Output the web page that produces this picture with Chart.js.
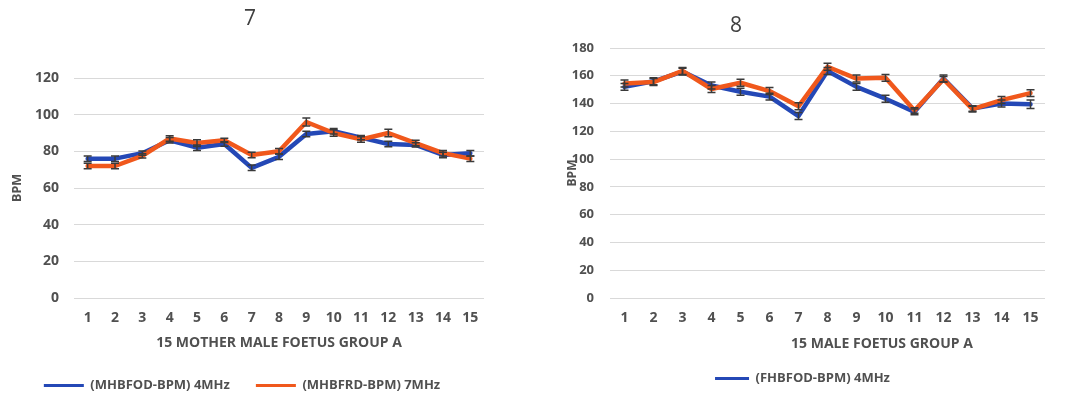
<!DOCTYPE html>
<html>
<head>
<meta charset="utf-8">
<script src="https://cdn.jsdelivr.net/npm/chart.js@4.4.1/dist/chart.umd.min.js"></script>
<style>
  body { margin: 0; background: #fff; width: 1091px; height: 409px; overflow: hidden; position: relative; }
  canvas { position: absolute; top: 0; }
  #chart7 { left: 0; }
  #chart8 { left: 540px; }
</style>
</head>
<body>
<canvas id="chart7" width="520" height="409"></canvas>
<canvas id="chart8" width="551" height="409"></canvas>
<script>
// Datos
const patients = ['1','2','3','4','5','6','7','8','9','10','11','12','13','14','15'];

// Gráfico 7: madres (MHB)
const mhbfod4MHz = [76, 76, 79, 86, 82, 84, 71, 77, 89.5, 91, 87.5, 84, 83.5, 78, 79];
const mhbfrd7MHz = [72, 72, 77.5, 87, 84.5, 86, 78, 80, 96, 90, 86.5, 90, 84.5, 79, 76];
const mhbfodErr = [1.5, 1.5, 1.2, 1.5, 1.5, 1.2, 1.5, 1.5, 1.5, 1.5, 1.2, 1.5, 1.2, 1.5, 1.5];
const mhbfrdErr = [1.5, 1.5, 1.2, 1.5, 1.8, 1.2, 1.5, 1.5, 2.2, 1.8, 1.5, 2, 1.5, 1.5, 1.5];

// Gráfico 8: fetos (FHB)
const fhbfod4MHz = [152, 156, 163, 153, 148.5, 145, 131, 163.5, 152, 143.5, 134, 158, 136.5, 140, 139.5];
const fhbfrd7MHz = [154.5, 155.5, 163.5, 150.5, 155, 149, 138, 166.5, 158, 158.5, 135, 157.5, 136, 142.5, 147.5];
const fhbfodErr = [2.5, 2.5, 2.5, 2.5, 2.5, 2.5, 2.5, 2.5, 2.5, 2.5, 2, 2.5, 2, 2.5, 3];
const fhbfrdErr = [2.5, 2.5, 2.5, 2.5, 2.5, 2.5, 2.5, 2.5, 2.5, 2.5, 2, 2, 2, 2.5, 2.5];

const blue = '#2448B6';
const orange = '#F0581C';
const grey = '#505050';
const family = "'Open Sans', 'DejaVu Sans', sans-serif";

// Barras de error dibujadas con la escala del gráfico
const errorBars = {
  id: 'errorBars',
  afterDatasetsDraw(chart) {
    const ctx = chart.ctx;
    const y = chart.scales.y;
    chart.data.datasets.forEach((ds, di) => {
      if (!ds.errors) return;
      const meta = chart.getDatasetMeta(di);
      meta.data.forEach((pt, i) => {
        const v = ds.data[i], e = ds.errors[i];
        const top = y.getPixelForValue(v + e);
        const bot = y.getPixelForValue(v - e);
        ctx.save();
        ctx.strokeStyle = '#3a3a3a';
        ctx.lineWidth = 1.5;
        ctx.beginPath();
        ctx.moveTo(pt.x, top); ctx.lineTo(pt.x, bot);
        ctx.moveTo(pt.x - 4, top); ctx.lineTo(pt.x + 4, top);
        ctx.moveTo(pt.x - 4, bot); ctx.lineTo(pt.x + 4, bot);
        ctx.stroke();
        ctx.restore();
      });
    });
  }
};

// Títulos y rótulo del eje X
const extraText = {
  id: 'extraText',
  afterDraw(chart, args, opts) {
    const ctx = chart.ctx;
    (opts.items || []).forEach(t => {
      ctx.save();
      ctx.font = t.font;
      ctx.fillStyle = t.color;
      ctx.textAlign = 'center';
      ctx.textBaseline = 'middle';
      ctx.fillText(t.text, t.x, t.y);
      ctx.restore();
    });
  }
};

function makeOptions(cfg) {
  return {
    responsive: false,
    animation: false,
    layout: { padding: cfg.padding },
    elements: {
      line: { tension: 0, borderWidth: 4.5, borderJoinStyle: 'round', borderCapStyle: 'round' },
      point: { radius: 0, hoverRadius: 0 }
    },
    plugins: {
      title: { display: false },
      tooltip: { enabled: false },
      legend: {
        position: 'bottom',
        labels: {
          color: grey,
          font: { family: family, size: 13, weight: 'bold' },
          boxWidth: cfg.boxWidth,
          boxHeight: 3,
          padding: cfg.legendPadding,
          sort: (a, b) => a.datasetIndex - b.datasetIndex,
          filter: cfg.legendFilter,
          generateLabels(chart) {
            const items = Chart.defaults.plugins.legend.labels.generateLabels(chart);
            items.forEach(it => { it.lineWidth = 0; it.fillStyle = it.strokeStyle; });
            return items;
          }
        }
      },
      extraText: { items: cfg.texts }
    },
    scales: {
      x: {
        offset: true,
        grid: { display: false },
        border: { display: false },
        ticks: {
          color: grey,
          font: { family: family, size: 14, weight: 'bold' },
          padding: 4,
          maxRotation: 0,
          autoSkip: false
        },
        afterFit(scale) { scale.height = cfg.xHeight; }
      },
      y: {
        min: 0,
        max: cfg.yMax,
        grid: { color: '#d9d9d9', lineWidth: 1, drawTicks: false },
        border: { display: false },
        ticks: {
          stepSize: 20,
          color: grey,
          font: { family: family, size: cfg.yFont, weight: 'bold' },
          padding: cfg.yTickPad
        },
        title: {
          display: true,
          text: 'BPM',
          color: grey,
          font: { family: family, size: cfg.yTitleFont, weight: 'bold' },
          padding: { top: cfg.yTitlePad, bottom: 0 }
        },
        afterFit(scale) { scale.width = cfg.yWidth; }
      }
    }
  };
}

// Gráfico 7
new Chart(document.getElementById('chart7'), {
  type: 'line',
  data: {
    labels: patients,
    datasets: [
      { label: '(MHBFOD-BPM) 4MHz', data: mhbfod4MHz, errors: mhbfodErr, borderColor: blue, backgroundColor: blue, order: 1 },
      { label: '(MHBFRD-BPM) 7MHz', data: mhbfrd7MHz, errors: mhbfrdErr, borderColor: orange, backgroundColor: orange, order: 0 }
    ]
  },
  options: makeOptions({
    padding: { left: 0, right: 36, top: 78, bottom: 7 },
    yMax: 120, yWidth: 74, yTickPad: 15, yFont: 14, yTitleFont: 12.5, yTitlePad: 10,
    xHeight: 55, legendPadding: 26, boxWidth: 40,
    legendFilter: () => true,
    texts: [
      { text: '7', x: 250, y: 19, font: "21px " + family, color: '#404040' },
      { text: '15 MOTHER MALE FOETUS GROUP A', x: 279, y: 343, font: "bold 14px " + family, color: grey }
    ]
  }),
  plugins: [errorBars, extraText]
});

// Gráfico 8
new Chart(document.getElementById('chart8'), {
  type: 'line',
  data: {
    labels: patients,
    datasets: [
      { label: '(FHBFOD-BPM) 4MHz', data: fhbfod4MHz, errors: fhbfodErr, borderColor: blue, backgroundColor: blue, order: 1 },
      { label: '(FHBFRD-BPM) 7MHz', data: fhbfrd7MHz, errors: fhbfrdErr, borderColor: orange, backgroundColor: orange, order: 0 }
    ]
  },
  options: makeOptions({
    padding: { left: 20, right: 46, top: 48, bottom: 14 },
    yMax: 180, yWidth: 50, yTickPad: 16, yFont: 13, yTitleFont: 12, yTitlePad: 5,
    xHeight: 64, legendPadding: 10, boxWidth: 34,
    legendFilter: item => item.datasetIndex === 0,
    texts: [
      { text: '8', x: 196, y: 26, font: "21px " + family, color: '#404040' },
      { text: '15 MALE FOETUS GROUP A', x: 342, y: 344, font: "bold 14px " + family, color: grey }
    ]
  }),
  plugins: [errorBars, extraText]
});
</script>
</body>
</html>
